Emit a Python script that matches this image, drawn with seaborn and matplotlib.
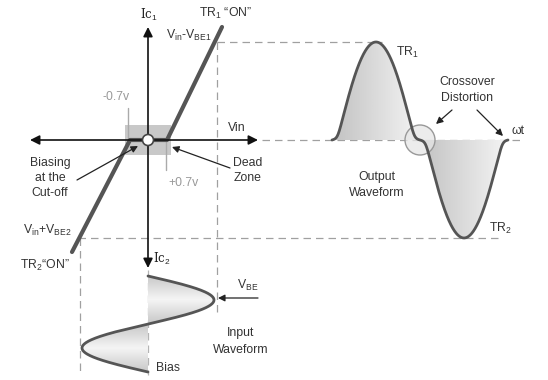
import numpy as np
import pandas as pd
import matplotlib
matplotlib.use("Agg")
import matplotlib.pyplot as plt
import seaborn as sns
from matplotlib.patches import Polygon, Circle, Rectangle

# ---------------- data (pixel units, y downward) -------------
origin = (148, 140)
transfer_x = [72, 130, 167, 222]          # transfer characteristic Ic vs Vin
transfer_y = [252, 140, 140, 27]
dead_zone_box = [125, 171, 125, 155]      # x0, x1, y0, y1
in_start, in_period, in_amp = 276, 96, 66 # input waveform (vertical)
out_start, out_period, out_amp = 332, 176, 98  # output waveform
dead_fraction = 0.2
base_y = 140

sns.set_theme(style="white")
plt.rcParams['font.family'] = ['Liberation Sans', 'DejaVu Sans']
plt.rcParams['mathtext.fontset'] = 'custom'
plt.rcParams['mathtext.rm'] = 'Liberation Sans'
plt.rcParams['mathtext.it'] = 'Liberation Sans'

fig = plt.figure(figsize=(5.48, 3.80), dpi=100)
ax = fig.add_axes([0, 0, 1, 1])
ax.set_xlim(0, 548)
ax.set_ylim(380, 0)
ax.axis('off')

TXT = '#333333'
LINE = '#555555'
DASH = '#a0a0a0'
FS = 8.8

def dashed(xs, ys, color=DASH, lw=0.9):
    ax.plot(xs, ys, color=color, lw=lw, ls=(0, (6, 4)), zorder=1)

def arrow(p_from, p_to, lw=0.9, ms=10, color='#222222'):
    ax.annotate('', xy=p_to, xytext=p_from,
                arrowprops=dict(arrowstyle='-|>', color=color, lw=lw,
                                mutation_scale=ms, shrinkA=0, shrinkB=0),
                zorder=6)

def gradient_fill(xs, ys, horizontal=True, c_dark=0.78, c_light=0.96):
    poly = Polygon(np.column_stack([xs, ys]), closed=True, facecolor='none',
                   edgecolor='none')
    ax.add_patch(poly)
    n = 256
    if horizontal:
        g = np.linspace(c_dark, c_light, n)[None, :]
    else:
        tt = np.linspace(-1, 1, n)
        g = (c_light - (c_light - c_dark) * np.abs(tt))[:, None]
    img = np.dstack([g, g, g]) * np.ones((1, 1, 1))
    im = ax.imshow(img, extent=[min(xs), max(xs), max(ys), min(ys)],
                   aspect='auto', zorder=2, interpolation='bilinear')
    im.set_clip_path(poly)

# ---------------- dashed guide lines ----------------
dashed([217, 382], [42, 42])
dashed([217, 217], [42, 312])
dashed([262, 522], [base_y, base_y])
dashed([78, 502], [238, 238])
dashed([80, 80], [238, 373])
dashed([148, 148], [270, 375], color='#b4b4b4')

# ---------------- dead zone box ----------------
ax.add_patch(Rectangle((dead_zone_box[0], dead_zone_box[2]),
                       dead_zone_box[1] - dead_zone_box[0],
                       dead_zone_box[3] - dead_zone_box[2],
                       facecolor='#c8c8c8', edgecolor='none', zorder=2))

# ---------------- axes ----------------
arrow((148, 140), (30, 140), lw=1.2, ms=14, color='#111111')
arrow((148, 140), (258, 140), lw=1.2, ms=14, color='#111111')
arrow((148, 140), (148, 27), lw=1.2, ms=14, color='#111111')
arrow((148, 140), (148, 268), lw=1.2, ms=14, color='#111111')

# ---------------- transfer characteristic ----------------
sns.lineplot(x=transfer_x, y=transfer_y, sort=False, ax=ax, color=LINE,
             lw=3.0, zorder=4, estimator=None)
ax.add_patch(Circle(origin, 5.5, facecolor='white', edgecolor='#444444',
                    lw=1.2, zorder=7))

# -0.7 / +0.7 ticks
ax.plot([128, 128], [108, 140], color='#aaaaaa', lw=1.0, zorder=3)
ax.plot([166, 166], [140, 170], color='#aaaaaa', lw=1.0, zorder=3)

# ---------------- input waveform ----------------
iy = np.linspace(in_start, in_start + in_period, 400)
ix = origin[0] + in_amp * np.sin(2 * np.pi * (iy - in_start) / in_period)
half = len(iy) // 2
gradient_fill(np.r_[ix[:half + 1], origin[0]], np.r_[iy[:half + 1], iy[half]],
              horizontal=False)
gradient_fill(np.r_[ix[half:], origin[0]], np.r_[iy[half:], iy[half]],
              horizontal=False)
sns.lineplot(x=ix, y=iy, sort=False, ax=ax, color=LINE, lw=2.0, zorder=5,
             estimator=None)

# ---------------- output waveform ----------------
ox = np.linspace(out_start, out_start + out_period, 600)
s = np.sin(2 * np.pi * (ox - out_start) / out_period)
eps = 0.1
mag = 0.5 * ((np.abs(s) - dead_fraction) + np.sqrt((np.abs(s) - dead_fraction) ** 2 + eps ** 2))
mag = (mag - mag.min()) / (mag.max() - mag.min())
oy = base_y - out_amp * np.sign(s) * mag
mid = len(ox) // 2
gradient_fill(np.r_[ox[:mid + 1], ox[mid], ox[0]],
              np.r_[oy[:mid + 1], base_y, base_y], horizontal=True,
              c_dark=0.76, c_light=0.96)
gradient_fill(np.r_[ox[mid:], ox[-1], ox[mid]],
              np.r_[oy[mid:], base_y, base_y], horizontal=True,
              c_dark=0.76, c_light=0.96)
ax.add_patch(Circle((420, 140), 15, facecolor=(0.9, 0.9, 0.9, 0.75),
                    edgecolor='#999999', lw=1.0, zorder=4))
sns.lineplot(x=ox, y=oy, sort=False, ax=ax, color=LINE, lw=2.0, zorder=5,
             estimator=None)

# ---------------- annotation arrows ----------------
arrow((77, 180), (138, 146))
arrow((230, 168), (172, 147))
arrow((258, 298), (218, 298))
arrow((452, 110), (436, 124))
arrow((477, 110), (503, 136))

# ---------------- texts ----------------
def t(x, y, s, color=TXT, fs=FS, **kw):
    ax.text(x, y, s, color=color, fontsize=fs, ha='center', va='center', **kw)

t(149, 15, r'Ic$_1$', family=['DejaVu Serif'], fs=8.5, color='#222222')
t(162, 259, r'Ic$_2$', family=['DejaVu Serif'], fs=8.5, color='#222222')
t(226, 13, 'TR$_1$ \u201cON\u201d')
t(189, 35, r'V$_{\rm in}$-V$_{\rm BE1}$')
t(237, 128, 'Vin')
t(116, 97, '-0.7v', color='#999999')
t(184, 183, '+0.7v', color='#999999')
t(50, 163, 'Biasing')
t(50, 178, 'at the')
t(50, 193, 'Cut-off')
t(248, 163, 'Dead')
t(248, 178, 'Zone')
t(47, 230, r'V$_{\rm in}$+V$_{\rm BE2}$')
t(45, 265, 'TR$_2$\u201cON\u201d')
t(248, 285, r'V$_{\rm BE}$')
t(241, 333, 'Input')
t(241, 350, 'Waveform')
t(168, 368, 'Bias')
t(407, 52, 'TR$_1$')
t(500, 228, 'TR$_2$')
t(467, 82, 'Crossover')
t(467, 98, 'Distortion')
t(518, 131, '\u03c9t')
t(377, 177, 'Output')
t(377, 193, 'Waveform')

fig.savefig('out.png', dpi=100)
